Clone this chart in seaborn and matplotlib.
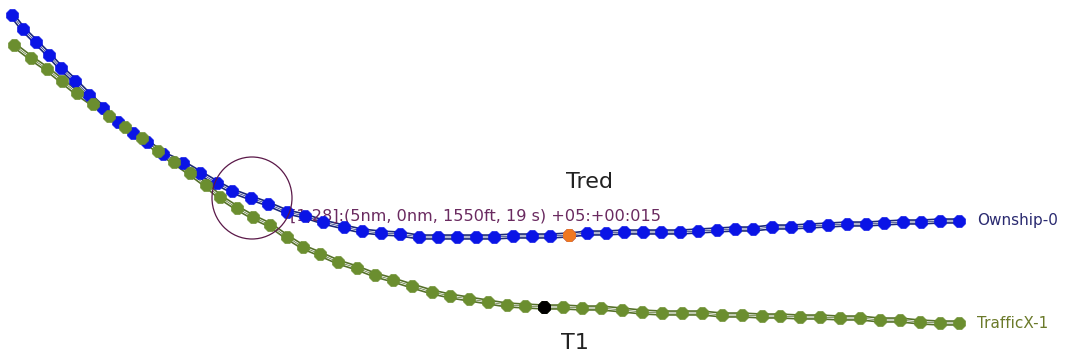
import matplotlib
matplotlib.use("Agg")
import matplotlib.pyplot as plt
import seaborn as sns
import pandas as pd
from matplotlib.patches import Ellipse

sns.set_theme(style="white")
plt.rcParams['font.family'] = ['DejaVu Sans']

# Ownship-0 trajectory (screen units)
own_x = [12, 23, 36, 49, 61, 75, 89, 103, 118, 133, 147, 163, 183, 200, 217, 232, 251,
         268, 287, 305, 323, 344, 362, 381, 400, 419, 438, 457, 476, 494, 513, 532, 550,
         569, 587, 606, 624, 643, 661, 680, 698, 717, 735, 753, 772, 791, 809, 828, 847,
         866, 884, 903, 921, 940, 959]
own_y = [15, 29, 42, 55, 68, 81, 95, 108, 122, 133, 142, 154, 163, 173, 183, 191, 198,
         204, 212, 216, 222, 227, 231, 233, 234, 237, 237, 237, 237, 237, 236, 236, 236,
         235, 233, 233, 232, 232, 232, 232, 231, 230, 229, 229, 227, 227, 226, 225, 224,
         224, 223, 222, 222, 221, 221]

# TrafficX-1 trajectory (screen units)
trf_x = [14, 31, 47, 62, 77, 93, 109, 125, 142, 158, 174, 190, 206, 220, 237, 253,
         270, 287, 303, 320, 338, 357, 375, 393, 412, 432, 450, 469, 488, 507, 525, 544,
         563, 582, 601, 622, 642, 662, 682, 702, 722, 742, 762, 780, 800, 820, 840, 860,
         880, 900, 920, 940, 959]
trf_y = [45, 58, 69, 81, 93, 104, 116, 127, 138, 151, 162, 173, 185, 197, 208, 217,
         225, 237, 247, 254, 262, 268, 275, 280, 286, 292, 296, 299, 302, 305, 306, 307,
         307, 308, 308, 310, 312, 313, 313, 313, 315, 315, 316, 316, 317, 317, 318, 318,
         320, 320, 322, 323, 323]

own_mark_idx = 33    # orange marker (Tred)
trf_mark_idx = 31    # black marker (T1)
circle_center = (252, 198)
circle_radius = 40
annotation = "[1,28]:(5nm, 0nm, 1550ft, 19 s) +05:+00:015"

own = pd.DataFrame({"x": own_x, "y": own_y})
trf = pd.DataFrame({"x": trf_x, "y": trf_y})

fig = plt.figure(figsize=(10.65, 3.56), dpi=100)
ax = fig.add_axes([0, 0, 1, 1])
ax.set_xlim(0, 1065)
ax.set_ylim(356, 0)
ax.axis("off")

BLUE = "#0a14e6"
NAVY = "#1c2a78"
GREEN = "#6b8e2f"
DKGREEN = "#55702a"

for df, fill, dark in [(own, BLUE, NAVY), (trf, GREEN, DKGREEN)]:
    sns.lineplot(data=df, x="x", y="y", sort=False, estimator=None, ax=ax,
                 color=dark, linewidth=4.0, zorder=2)
    sns.lineplot(data=df, x="x", y="y", sort=False, estimator=None, ax=ax,
                 color="white", linewidth=1.6, zorder=3)
    sns.lineplot(data=df, x="x", y="y", sort=False, estimator=None, ax=ax,
                 color=dark, linewidth=0.5, zorder=4)
    sns.scatterplot(data=df, x="x", y="y", ax=ax, color=fill, marker="8",
                    s=85, edgecolor=fill, linewidth=0.5, zorder=5, legend=False)

sns.scatterplot(x=[own_x[own_mark_idx]], y=[own_y[own_mark_idx]], ax=ax,
                color="#f07820", marker="8", s=85, edgecolor="#f07820", zorder=6, legend=False)
sns.scatterplot(x=[trf_x[trf_mark_idx]], y=[trf_y[trf_mark_idx]], ax=ax,
                color="black", marker="8", s=85, edgecolor="black", zorder=6, legend=False)

ax.add_patch(Ellipse(circle_center, 2 * circle_radius, 2 * circle_radius + 2,
                     fill=False, edgecolor="#5a1848", linewidth=0.9, zorder=7))

ax.text(290, 216, annotation, color="#6a2a60", fontsize=11.6, va="center", ha="left", zorder=4.5)
ax.text(590, 182, "Tred", color="#222222", fontsize=16, va="center", ha="center")
ax.text(575, 343, "T1", color="#222222", fontsize=16, va="center", ha="center")
ax.text(977, 221, "Ownship-0", color="#2a2a70", fontsize=11, va="center", ha="left")
ax.text(977, 323, "TrafficX-1", color="#6b7a2a", fontsize=11, va="center", ha="left")

fig.savefig("out.png", dpi=100)
